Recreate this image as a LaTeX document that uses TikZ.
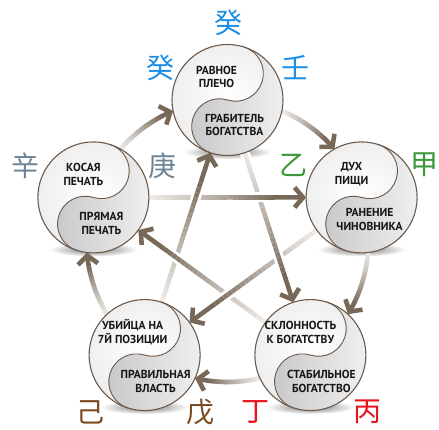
\documentclass[tikz,border=0pt]{standalone}
\usepackage{fontspec}
\setmainfont{PT Sans}
\newfontfamily\cjk{Noto Sans CJK SC}
\usetikzlibrary{calc,arrows.meta}
\definecolor{arrowdark}{HTML}{786858}
\definecolor{arrowlight}{HTML}{ECE9E6}
\definecolor{rim}{HTML}{6E5A4A}
\definecolor{lobedark}{HTML}{C8C8CA}
\definecolor{lobelight}{HTML}{F2F2F2}
\definecolor{cblue}{HTML}{1E8FE6}
\definecolor{cslate}{HTML}{6F8497}
\definecolor{cgreen}{HTML}{3A983A}
\definecolor{cbrown}{HTML}{7A4A22}
\definecolor{cred}{HTML}{E8141C}
\definecolor{txt}{HTML}{161616}
\newcommand\yinyang[1]{%
  \begin{scope}[shift={(#1.center)}, rotate=-17]
    \shade[inner color=white, outer color=black!7] (0,0) circle[radius=55.5];
    \shade[left color=lobedark, right color=lobelight]
      (0,55.5) arc[start angle=90,end angle=-90,radius=27.75]
      arc[start angle=90,end angle=270,radius=27.75]
      arc[start angle=-90,end angle=90,radius=55.5] -- cycle;
    \draw[rim, line width=0.9pt] (0,55.5) arc[start angle=90,end angle=-90,radius=27.75]
      arc[start angle=90,end angle=270,radius=27.75];
    \draw[rim, line width=1.1pt] (0,0) circle[radius=55.5];
  \end{scope}}
\newcommand\circshadow[1]{%
  \shade[inner color=black!55, outer color=white] ($(#1)+(0,-52)$) ellipse[x radius=44, y radius=7];}
% end coordinates of a straight arrow between two circle nodes
\newcommand\lineends[2]{%
  \coordinate (#1#2s) at ($(#1)!55.5pt!(#2)$);
  \coordinate (#1#2e) at ($(#2)!55.5pt!(#1)$);}
% part of a straight gradient arrow, segments #3..#4 of 24 (t from 0 to 0.8)
\newcommand\gradline[4]{%
  \foreach \i in {#3,...,#4}{%
    \pgfmathsetmacro\ta{\i/30}%
    \pgfmathsetmacro\tb{(\i+1.3)/30}%
    \pgfmathtruncatemacro\pc{100*((\i+0.5)/24)^1.2}%
    \draw[haloseg] ($(#1#2s)!\ta!(#1#2e)$) -- ($(#1#2s)!\tb!(#1#2e)$);
    \draw[arrowseg, draw=arrowdark!\pc!arrowlight] ($(#1#2s)!\ta!(#1#2e)$) -- ($(#1#2s)!\tb!(#1#2e)$);
  }}
\newcommand\linetip[2]{%
  \draw[haloseg] ($(#1#2s)!0.8!(#1#2e)$) -- ($(#1#2s)!0.9!(#1#2e)$);
  \draw[arrowseg, arrowdark, tipstyle] ($(#1#2s)!0.8!(#1#2e)$) -- (#1#2e);}
% arc gradient arrow along the circle through the centres
\newcommand\gradarc[2]{%
  \foreach \i in {0,...,23}{%
    \pgfmathsetmacro\aa{#1+(#2-(#1))*0.8*\i/24}%
    \pgfmathsetmacro\ab{#1+(#2-(#1))*0.8*(\i+1.3)/24}%
    \pgfmathtruncatemacro\pc{100*((\i+0.5)/24)^1.2}%
    \draw[arrowseg, draw=arrowdark!\pc!arrowlight] ($(O)+(\aa:141)$) arc[start angle=\aa, end angle=\ab, radius=141];
  }
  \pgfmathsetmacro\ac{#1+(#2-(#1))*0.8}%
  \draw[arrowseg, arrowdark, tipstyle] ($(O)+(\ac:141)$) arc[start angle=\ac, end angle=#2, radius=141];}
\begin{document}
\begin{tikzpicture}[x=1pt,y=1pt,
  circ/.style={circle, minimum size=111pt, inner sep=0pt},
  lab/.style={font=\bfseries\fontsize{11.6}{13.8}\selectfont, text=txt, align=center, inner sep=0pt},
  han/.style={font=\cjk\fontsize{28}{28}\selectfont, inner sep=0pt},
  arrowseg/.style={line width=4.6pt, line cap=butt},
  haloseg/.style={line width=10pt, line cap=butt, white},
  tipstyle/.style={-{Straight Barb[length=8.5pt,width=20pt]}},
]
\useasboundingbox (0,0) rectangle (439,429);
\fill[white] (0,0) rectangle (439,429);
\coordinate (O) at (227.5,188);
\node[circ] (T) at ($(O)+(90:141)$) {};
\node[circ] (L) at ($(O)+(162:141)$) {};
\node[circ] (BL) at ($(O)+(234:141)$) {};
\node[circ] (BR) at ($(O)+(306:141)$) {};
\node[circ] (R) at ($(O)+(18:141)$) {};
% shadows
\foreach \c in {T,L,R,BL,BR}{\circshadow{\c}}
% outer cycle
\gradarc{139.3}{112.7}
\gradarc{67.3}{40.7}
\gradarc{-4.7}{-31.3}
\gradarc{-76.7}{-103.3}
\gradarc{-148.7}{-175.3}
% star: first halves, then second halves on top
\lineends{L}{R}
\lineends{T}{BR}
\lineends{R}{BL}
\lineends{BR}{L}
\lineends{BL}{T}
\gradline{L}{R}{0}{14}
\gradline{T}{BR}{0}{14}
\gradline{R}{BL}{0}{14}
\gradline{BR}{L}{0}{14}
\gradline{BL}{T}{0}{14}
\gradline{L}{R}{15}{23}
\gradline{T}{BR}{15}{23}
\gradline{R}{BL}{15}{23}
\gradline{BR}{L}{15}{23}
\gradline{BL}{T}{15}{23}
\linetip{L}{R}
\linetip{T}{BR}
\linetip{R}{BL}
\linetip{BR}{L}
\linetip{BL}{T}
% circles
\foreach \c in {T,L,R,BL,BR}{\yinyang{\c}}
% circle texts
\node[lab] (T1) at ($(T)+(-11,23)$) {РАВНОЕ\\ПЛЕЧО};
\node[lab] (T2) at ($(T)+(7,-25)$) {ГРАБИТЕЛЬ\\БОГАТСТВА};
\node[lab] (L1) at ($(L)+(-10,23)$) {КОСАЯ\\ПЕЧАТЬ};
\node[lab] (L2) at ($(L)+(8,-26)$) {ПРЯМАЯ\\ПЕЧАТЬ};
\node[lab] (R1) at ($(R)+(-10,23)$) {ДУХ\\ПИЩИ};
\node[lab] (R2) at ($(R)+(8,-22)$) {РАНЕНИЕ\\ЧИНОВНИКА};
\node[lab] (BL1) at ($(BL)+(-12,23)$) {УБИЙЦА НА\\7Й ПОЗИЦИИ};
\node[lab] (BL2) at ($(BL)+(11,-26)$) {ПРАВИЛЬНАЯ\\ВЛАСТЬ};
\node[lab] (BR1) at ($(BR)+(-10,23)$) {СКЛОННОСТЬ\\К БОГАТСТВУ};
\node[lab] (BR2) at ($(BR)+(11,-26)$) {СТАБИЛЬНОЕ\\БОГАТСТВО};
% stems
\node[han, text=cblue] (h1) at (228,406) {癸};
\node[han, text=cblue] (h2) at (160,361) {癸};
\node[han, text=cblue] (h3) at (295,361) {壬};
\node[han, text=cslate] (h4) at (26,263) {辛};
\node[han, text=cslate] (h5) at (162,263) {庚};
\node[han, text=cgreen] (h6) at (293,264) {乙};
\node[han, text=cgreen] (h7) at (424,264) {甲};
\node[han, text=cbrown] (h8) at (90,17) {己};
\node[han, text=cbrown] (h9) at (200,17) {戊};
\node[han, text=cred] (h10) at (255,17) {丁};
\node[han, text=cred] (h11) at (367,17) {丙};
\end{tikzpicture}
\end{document}
